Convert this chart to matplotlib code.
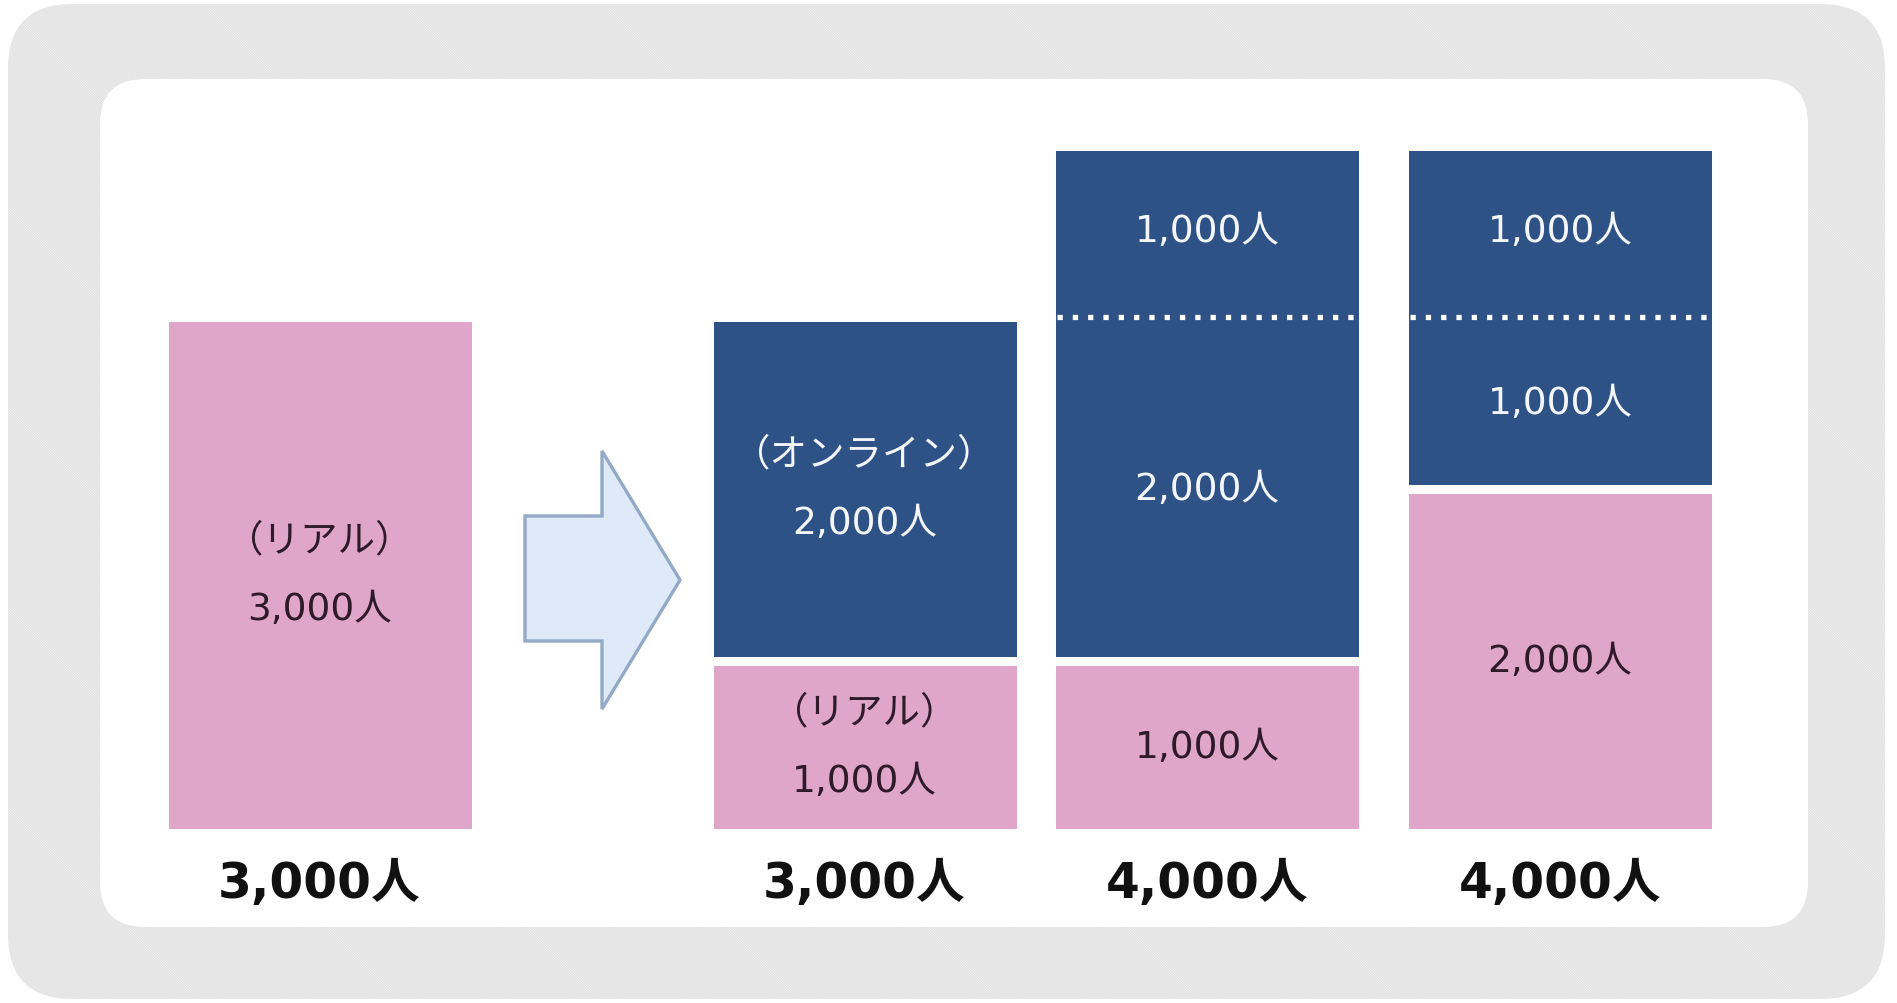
import matplotlib
matplotlib.use("Agg")
import matplotlib.pyplot as plt
from matplotlib.patches import FancyBboxPatch, Polygon
import numpy as np

plt.rcParams['font.family'] = ['DejaVu Sans', 'Noto Sans CJK JP']
plt.rcParams['hatch.linewidth'] = 0.8

# ---- data ----
real = [3000, 1000, 1000, 2000]
online_base = [0, 2000, 2000, 1000]
online_added = [0, 0, 1000, 1000]
real_names = ["（リアル）", "（リアル）", "", ""]
online_names = ["", "（オンライン）", "", ""]
unit = "人"

# ---- layout ----
W, H = 1897, 1004
x_centers = [319.5, 864.5, 1207, 1560]
bar_w = 312
gap_lw_px = 9
NAVY = '#2F5286'
PINK = '#DFA6C9'

fig = plt.figure(figsize=(W / 100, H / 100), dpi=100)
fig.patch.set_facecolor('white')

# background panels in pixel coordinates (origin top-left)
bg = fig.add_axes([0, 0, 1, 1])
bg.set_xlim(0, W)
bg.set_ylim(H, 0)
bg.axis('off')
outer_box = ((8 + 65, 5 + 65), 1877 - 130, 995 - 130)
bg.add_patch(FancyBboxPatch(*outer_box, boxstyle="round,pad=65",
                            facecolor='#F4F4F4', edgecolor='none', zorder=0))
bg.add_patch(FancyBboxPatch(*outer_box, boxstyle="round,pad=65",
                            facecolor='none', edgecolor='#E0E0E0',
                            linewidth=0, hatch='\\' * 14, zorder=0.5))
inner = FancyBboxPatch((100 + 45, 80 + 45), 1708 - 90, 848 - 90,
                       boxstyle="round,pad=45", facecolor='white',
                       edgecolor='none', zorder=1)
bg.add_patch(inner)
arrow = Polygon([(525, 517), (602, 517), (602, 452), (680, 581),
                 (602, 710), (602, 642), (525, 642)], closed=True,
                facecolor='#DEEAF8', edgecolor='#93A9C6', linewidth=2.4,
                joinstyle='miter', zorder=2)
bg.add_patch(arrow)

# chart axes: value 0 at pixel row 833.5, 4000 at pixel row 146.5
ax = fig.add_axes([0, 0, 1, 1])
ax.patch.set_alpha(0)
ax.axis('off')
ax.set_xlim(0, W)
upp = 4000 / (833.5 - 146.5)
ax.set_ylim((833.5 - H) * upp, 833.5 * upp)

lw_pt = gap_lw_px * 72 / 100
real_arr = np.array(real)
online_tot = np.array(online_base) + np.array(online_added)
ax.bar(x_centers, real_arr, width=bar_w, color=PINK, edgecolor='white',
       linewidth=lw_pt, zorder=3)
mask = online_tot > 0
ax.bar(np.array(x_centers)[mask], online_tot[mask], width=bar_w,
       bottom=real_arr[mask], color=NAVY, edgecolor='white',
       linewidth=lw_pt, zorder=3)

# dotted separators where an extra online segment exists
for xc, r, b, a in zip(x_centers, real, online_base, online_added):
    if a > 0:
        inner_half = bar_w / 2 - gap_lw_px / 2
        ax.hlines(r + b, xc - inner_half + 1, xc + inner_half,
                  colors='white', linewidth=3.8,
                  linestyles=(0, (1, 1.9)), zorder=4)

FS = 27
LS = 2.15


def seg_label(xc, bottom, height, name, color):
    if height <= 0:
        return
    txt = f"{height:,}{unit}"
    if name:
        txt = name + "\n" + txt
    ax.text(xc, bottom + height / 2, txt, ha='center', va='center',
            multialignment='center', fontsize=FS, color=color,
            linespacing=LS, zorder=5)


for i, xc in enumerate(x_centers):
    seg_label(xc, 0, real[i], real_names[i], '#2E1A2B')
    seg_label(xc, real[i], online_base[i], online_names[i], '#F3F6FB')
    seg_label(xc, real[i] + online_base[i], online_added[i], "", '#F3F6FB')
    total = real[i] + online_base[i] + online_added[i]
    ax.text(xc, (833.5 - 884) * upp, f"{total:,}{unit}", ha='center',
            va='center', fontsize=35, fontweight='bold', color='#111111',
            zorder=5)

fig.savefig('out.png', dpi=100, facecolor='white')
